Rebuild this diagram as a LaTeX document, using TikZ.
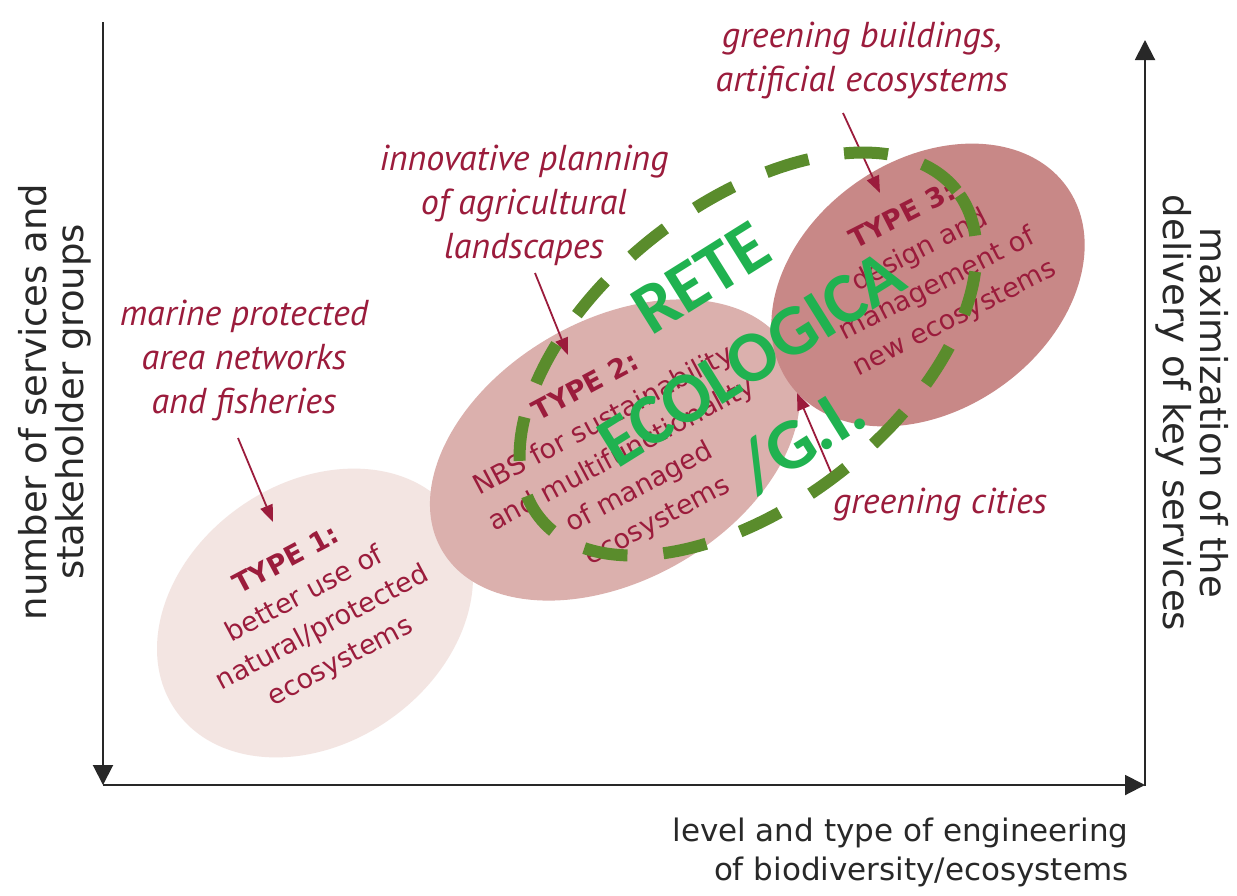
\documentclass[tikz,border=0pt]{standalone}
\usepackage{fontspec}
\setmainfont{DejaVu Sans}
\newfontfamily\labelfont{PT Sans}
\newfontfamily\retefont{Carlito}
\usetikzlibrary{arrows.meta}
\usetikzlibrary{shapes.geometric}
\usetikzlibrary{positioning}

\definecolor{nbsred}{RGB}{155,28,60}
\definecolor{typeone}{RGB}{243,229,226}
\definecolor{typetwo}{RGB}{219,176,173}
\definecolor{typethree}{RGB}{200,136,135}
\definecolor{reteline}{RGB}{90,140,44}
\definecolor{retetext}{RGB}{32,178,80}
\definecolor{axisgray}{RGB}{40,40,40}

\tikzset {
  axis/.style = {
    draw = axisgray,
    line width = 2pt,
    -{Triangle[length = 20pt, width = 20pt]}
  },
  % small arrow from an example to its type
  lbl arrow/.style = {
    draw = nbsred,
    line width = 1.8pt,
    -{Triangle[length = 17pt, width = 13pt]}
  },
  axis label/.style = {
    align = center,
    text = axisgray,
    font = \fontsize{37}{37}\selectfont
  }
}
\tikzset {
  % coloured area of one NBS type
  type area/.style = {
    ellipse,
    draw = none,
    inner sep = 0
  },
  type text/.style = {
    text = nbsred,
    align = center,
    font = \fontsize{27}{38}\selectfont
  },
  % italic examples
  nbs example/.style = {
    text = nbsred,
    align = center,
    font = \labelfont\itshape\fontsize{36}{44}\selectfont
  },
  rete ring/.style = {
    ellipse,
    draw = reteline,
    line width = 12pt,
    dash pattern = on 44pt off 36pt,
    inner sep = 0
  },
  rete text/.style = {
    text = retetext,
    align = center,
    font = \retefont\bfseries\fontsize{72}{95}\selectfont
  }
}

\begin{document}
\begin{tikzpicture}[x = 1pt, y = -1pt]
    \fill[white] (0,0) rectangle (1237,895);
    \useasboundingbox (0,0) rectangle (1237,895);

    \coordinate (ytop) at (103,22);
    \coordinate (origin) at (103,785);
    \coordinate (xend) at (1145,785);
    \coordinate (rtop) at (1145,40);

    \draw[axis] (ytop) -- (origin);
    \draw[axis] (origin) -- (xend);
    \draw[axis] ([yshift=-1pt]xend) -- (rtop);

    \node[axis label, rotate = 90] (services) at (55,402)
      {number of services and\\stakeholder groups};
    \node[axis label, rotate = -90] (delivery) at (1192,413)
      {maximization of the\\delivery of key services};
    \node[axis label, align = right, anchor = north east,
      font = \fontsize{31}{39}\selectfont] (engineering) at (1132,814)
      {level and type of engineering\\of biodiversity/ecosystems};

    \node[type area, fill = typeone, minimum width = 340, minimum height = 260,
      rotate = 35] (type1) at (315,613) {};
    \node[type area, fill = typetwo, minimum width = 400, minimum height = 260,
      rotate = 30] (type2) at (615,450) {};
    \node[type area, fill = typethree, minimum width = 340, minimum height = 250,
      rotate = 35] (type3) at (928,285) {};

    \node[type text, rotate = 28] (type1-text) at (314,612)
      {\textbf{TYPE 1:}\\better use of\\natural/protected\\ecosystems};
    \node[type text, rotate = 28] (type2-text) at (622,455)
      {\textbf{TYPE 2:}\\NBS for sustainability\\and multifunctionality\\of managed\\ecosystems};
    \node[type text, rotate = 27] (type3-text) at (929,268)
      {\textbf{TYPE 3:}\\design and\\management of\\new ecosystems};

    \node[nbs example] (marine) at (244,360)
      {marine protected\\area networks\\and fisheries};
    \node[nbs example] (agri) at (524,205)
      {innovative planning\\of agricultural\\landscapes};
    \node[nbs example] (buildings) at (862,60)
      {greening buildings,\\artificial ecosystems};
    \node[nbs example] (cities) at (940,505) {greening cities};

    \coordinate (marine-out) at (238,438);
    \coordinate (type1-in) at (273,522);
    \coordinate (agri-out) at (535,273);
    \coordinate (type2-in) at (568,355);
    \coordinate (buildings-out) at (843,113);
    \coordinate (type3-in) at (880,193);
    \coordinate (cities-out) at (833,477);
    \coordinate (cities-in) at (797,393);

    \draw[lbl arrow] (marine-out) -- (type1-in);
    \draw[lbl arrow] (agri-out) -- (type2-in);
    \draw[lbl arrow] (buildings-out) -- (type3-in);
    \draw[lbl arrow] (cities-out) -- (cities-in);

    \node[rete ring, minimum width = 530, minimum height = 300,
      rotate = 38] (rete) at (748,354) {};
    \node[rete text, rotate = 32] (rete-name) at (752,360)
      {RETE\\ECOLOGICA\\/G.I.};

  \end{tikzpicture}
\end{document}
